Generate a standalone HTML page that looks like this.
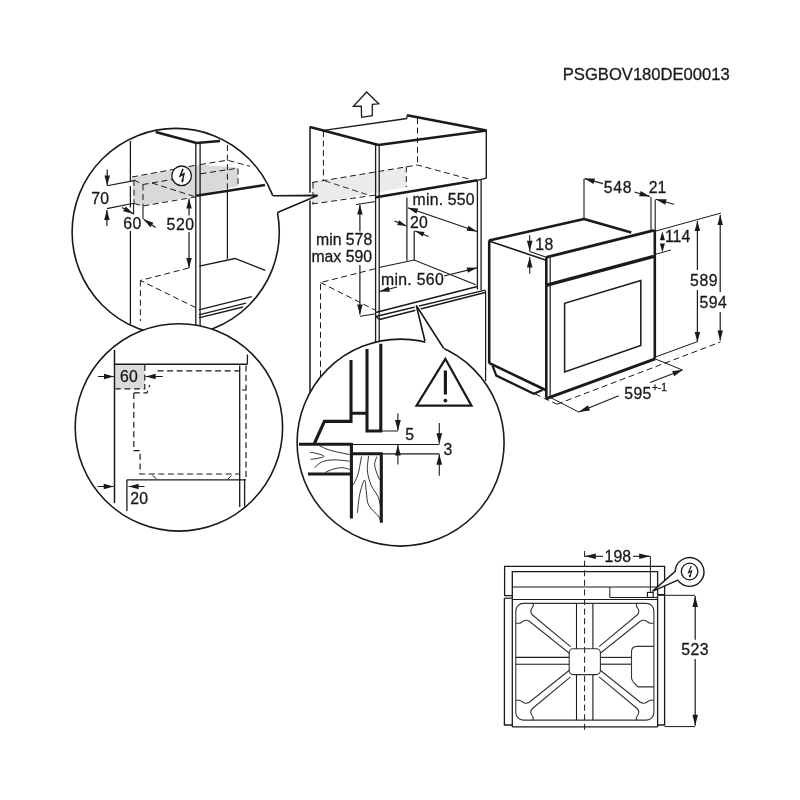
<!DOCTYPE html>
<html><head><meta charset="utf-8"><style>
html,body{margin:0;padding:0;background:#fff;width:800px;height:800px;overflow:hidden}
svg{display:block}
text{will-change:transform}
text{font-family:"Liberation Sans",sans-serif;fill:#1a1a1a;stroke:#1a1a1a;stroke-width:0.3px}
</style></head><body>
<svg width="800" height="800" viewBox="0 0 800 800">
<rect width="800" height="800" fill="#fff"/>
<polygon points="366.65,92 378.75,103.84 372.3,104.4 372.3,115.65 361.6,117.3 361.3,106.1 353.4,106.4" fill="none" stroke="#1a1a1a" stroke-width="1.3" stroke-linejoin="miter"/>
<polygon points="312,182.5 406.3,166.5 406.3,187 380,192 312,204" fill="#ebebeb" stroke="none"/>
<line x1="310" y1="126.6" x2="310" y2="192.7" stroke="#1a1a1a" stroke-width="1.5"/>
<line x1="310" y1="200.6" x2="310" y2="400" stroke="#1a1a1a" stroke-width="1.5"/>
<line x1="313" y1="182.5" x2="313" y2="204" stroke="#1a1a1a" stroke-width="1.0" stroke-dasharray="6,3.6"/>
<line x1="310" y1="127" x2="378.5" y2="145" stroke="#1a1a1a" stroke-width="2.6"/>
<line x1="323.75" y1="130.4" x2="407" y2="118.5" stroke="#1a1a1a" stroke-width="1.3"/>
<line x1="407" y1="115.3" x2="407" y2="118.5" stroke="#1a1a1a" stroke-width="1.2"/>
<line x1="407" y1="115.2" x2="486.5" y2="130.5" stroke="#1a1a1a" stroke-width="2.6"/>
<line x1="378.4" y1="145" x2="486.5" y2="130.5" stroke="#1a1a1a" stroke-width="2.6"/>
<line x1="375.6" y1="143.5" x2="375.6" y2="400" stroke="#1a1a1a" stroke-width="1.3"/>
<line x1="379.2" y1="144.4" x2="379.2" y2="400" stroke="#1a1a1a" stroke-width="1.3"/>
<line x1="486.3" y1="130.5" x2="486.3" y2="178.2" stroke="#1a1a1a" stroke-width="1.4"/>
<line x1="486.3" y1="178.2" x2="477.4" y2="180.4" stroke="#1a1a1a" stroke-width="1.2"/>
<line x1="477.4" y1="180" x2="477.4" y2="289.5" stroke="#1a1a1a" stroke-width="1.3"/>
<line x1="481.1" y1="179.6" x2="481.1" y2="290" stroke="#1a1a1a" stroke-width="1.3"/>
<line x1="485.6" y1="290.5" x2="485.6" y2="381" stroke="#1a1a1a" stroke-width="1.2"/>
<line x1="323.4" y1="131" x2="323.4" y2="180" stroke="#1a1a1a" stroke-width="1.0" stroke-dasharray="6,3.6"/>
<line x1="417.5" y1="118" x2="417.5" y2="165" stroke="#1a1a1a" stroke-width="1.0" stroke-dasharray="6,3.6"/>
<polyline points="312,182.5 417.5,165 470,179.3" fill="none" stroke="#1a1a1a" stroke-width="1.0" stroke-linejoin="miter" stroke-dasharray="6,3.6"/>
<line x1="406.3" y1="166.5" x2="406.3" y2="187" stroke="#1a1a1a" stroke-width="1.0" stroke-dasharray="6,3.6"/>
<polyline points="312,204 376,195" fill="none" stroke="#1a1a1a" stroke-width="1.0" stroke-linejoin="miter" stroke-dasharray="6,3.6"/>
<line x1="356" y1="204.5" x2="376" y2="201.5" stroke="#1a1a1a" stroke-width="1.0"/>
<line x1="324.75" y1="180.75" x2="368.25" y2="195" stroke="#1a1a1a" stroke-width="0.9" stroke-dasharray="6,3.6"/>
<line x1="376" y1="197.2" x2="477.4" y2="180.2" stroke="#1a1a1a" stroke-width="2.6"/>
<line x1="406.9" y1="197.5" x2="406.9" y2="260.8" stroke="#1a1a1a" stroke-width="1.2"/>
<polyline points="379,267.5 414.2,260 475.8,284.8" fill="none" stroke="#1a1a1a" stroke-width="1.2" stroke-linejoin="miter"/>
<line x1="375.6" y1="312.6" x2="477.3" y2="286.6" stroke="#1a1a1a" stroke-width="1.5"/>
<line x1="375.75" y1="316.5" x2="485" y2="290.1" stroke="#1a1a1a" stroke-width="1.3"/>
<line x1="379.5" y1="319.5" x2="485" y2="292.6" stroke="#1a1a1a" stroke-width="1.5"/>
<line x1="375.75" y1="316.5" x2="379.5" y2="319.5" stroke="#1a1a1a" stroke-width="1.2"/>
<polyline points="375,268.8 320.5,282.5 320.5,380" fill="none" stroke="#1a1a1a" stroke-width="1.0" stroke-linejoin="miter" stroke-dasharray="6,3.6"/>
<polyline points="320.5,282.5 375,310" fill="none" stroke="#1a1a1a" stroke-width="1.0" stroke-linejoin="miter" stroke-dasharray="6,3.6"/>
<line x1="360" y1="316.3" x2="375.5" y2="313.8" stroke="#1a1a1a" stroke-width="1.0"/>
<line x1="359.9" y1="231.5" x2="359.9" y2="204.5" stroke="#1a1a1a" stroke-width="1.2"/>
<polygon points="359.90,204.50 362.65,214.50 357.15,214.50" fill="#1a1a1a"/>
<line x1="359.9" y1="265" x2="359.9" y2="314.5" stroke="#1a1a1a" stroke-width="1.2"/>
<polygon points="359.90,314.50 357.15,304.50 362.65,304.50" fill="#1a1a1a"/>
<text x="372.2" y="245.4" font-size="15.8" text-anchor="end" letter-spacing="0">min 578</text>
<text x="372.0" y="261.8" font-size="15.8" text-anchor="end" letter-spacing="0">max 590</text>
<text x="412.6" y="204.6" font-size="15.8" text-anchor="start" letter-spacing="0.2">min. 550</text>
<line x1="407.8" y1="207.8" x2="477" y2="231.5" stroke="#1a1a1a" stroke-width="1.2"/>
<polygon points="407.80,207.80 418.15,208.44 416.37,213.64" fill="#1a1a1a"/>
<polygon points="477.00,231.50 466.65,230.86 468.43,225.66" fill="#1a1a1a"/>
<text x="410" y="227.5" font-size="15.8" text-anchor="start" letter-spacing="0.3">20</text>
<line x1="394.5" y1="221" x2="406.5" y2="226" stroke="#1a1a1a" stroke-width="1.2"/>
<polygon points="406.50,226.00 397.22,224.98 399.07,220.34" fill="#1a1a1a"/>
<line x1="414.2" y1="230.8" x2="414.2" y2="260" stroke="#1a1a1a" stroke-width="1.2"/>
<line x1="428.5" y1="236.5" x2="415.2" y2="231" stroke="#1a1a1a" stroke-width="1.2"/>
<polygon points="415.20,231.00 424.49,231.95 422.67,236.60" fill="#1a1a1a"/>
<text x="381" y="285.1" font-size="15.8" text-anchor="start" letter-spacing="0.3">min. 560</text>
<line x1="444" y1="276" x2="477" y2="267.8" stroke="#1a1a1a" stroke-width="1.2"/>
<polygon points="477.00,267.80 467.95,272.86 466.63,267.52" fill="#1a1a1a"/>
<line x1="397" y1="287" x2="379.5" y2="291.5" stroke="#1a1a1a" stroke-width="1.2"/>
<polygon points="379.50,291.50 388.58,286.48 389.87,291.83" fill="#1a1a1a"/>
<polygon points="268,190 317.7,195.4 277.5,212.4 270,205" fill="#fff" stroke="none"/>
<circle cx="175.7" cy="232" r="103.6" fill="#fff" stroke="#1a1a1a" stroke-width="1.6"/>
<clipPath id="c1"><circle cx="175.7" cy="232" r="102.8"/></clipPath><g clip-path="url(#c1)">
<polygon points="132,177.2 200,164.8 238,167.5 238,186 200,194.6 143,206 134,203.5" fill="#d9d9d9" stroke="none"/>
<line x1="130.4" y1="141" x2="130.4" y2="181" stroke="#1a1a1a" stroke-width="1.3"/>
<line x1="130.4" y1="186" x2="130.4" y2="207.5" stroke="#1a1a1a" stroke-width="1.3"/>
<line x1="130.4" y1="231" x2="130.4" y2="330" stroke="#1a1a1a" stroke-width="1.3"/>
<polyline points="155.6,131.9 196.5,143 220,141" fill="none" stroke="#1a1a1a" stroke-width="2.6" stroke-linejoin="miter"/>
<line x1="195.8" y1="143" x2="195.8" y2="340" stroke="#1a1a1a" stroke-width="1.3"/>
<line x1="200.1" y1="143" x2="200.1" y2="340" stroke="#1a1a1a" stroke-width="1.3"/>
<line x1="227.4" y1="145" x2="227.4" y2="190" stroke="#1a1a1a" stroke-width="1.0" stroke-dasharray="6,3.6"/>
<line x1="227.4" y1="190" x2="227.4" y2="259" stroke="#1a1a1a" stroke-width="1.2"/>
<polyline points="132,177 196,165.2" fill="none" stroke="#1a1a1a" stroke-width="1.0" stroke-linejoin="miter" stroke-dasharray="6,3.6"/>
<polyline points="200,164.6 227.4,160.2 250,166.3" fill="none" stroke="#1a1a1a" stroke-width="1.0" stroke-linejoin="miter" stroke-dasharray="6,3.6"/>
<polyline points="134,180 143,184.5 175,179" fill="none" stroke="#1a1a1a" stroke-width="1.0" stroke-linejoin="miter" stroke-dasharray="6,3.6"/>
<line x1="200.5" y1="173.8" x2="238" y2="168.2" stroke="#1a1a1a" stroke-width="1.0" stroke-dasharray="6,3.6"/>
<line x1="134" y1="180" x2="134" y2="203.5" stroke="#1a1a1a" stroke-width="1.0" stroke-dasharray="6,3.6"/>
<line x1="143" y1="184.5" x2="143" y2="206" stroke="#1a1a1a" stroke-width="1.0" stroke-dasharray="6,3.6"/>
<line x1="143" y1="206" x2="143" y2="219" stroke="#1a1a1a" stroke-width="1.1"/>
<line x1="152" y1="183" x2="196" y2="197" stroke="#1a1a1a" stroke-width="1.0" stroke-dasharray="6,3.6"/>
<polyline points="134,203.5 143,206 196,196.8" fill="none" stroke="#1a1a1a" stroke-width="1.0" stroke-linejoin="miter" stroke-dasharray="6,3.6"/>
<line x1="238" y1="168.5" x2="238" y2="186" stroke="#1a1a1a" stroke-width="1.0" stroke-dasharray="6,3.6"/>
<line x1="196.3" y1="195.8" x2="265" y2="185" stroke="#1a1a1a" stroke-width="2.6"/>
<line x1="107.2" y1="169.4" x2="107.2" y2="185.6" stroke="#1a1a1a" stroke-width="1.2"/>
<polygon points="107.20,185.60 104.45,175.60 109.95,175.60" fill="#1a1a1a"/>
<line x1="107.2" y1="185.8" x2="134" y2="180.6" stroke="#1a1a1a" stroke-width="1.1"/>
<line x1="106.9" y1="208.6" x2="133.7" y2="203.2" stroke="#1a1a1a" stroke-width="1.1"/>
<line x1="106.9" y1="226" x2="106.9" y2="210" stroke="#1a1a1a" stroke-width="1.2"/>
<polygon points="106.90,210.00 109.65,220.00 104.15,220.00" fill="#1a1a1a"/>
<text x="91.2" y="203.8" font-size="15.8" text-anchor="start" letter-spacing="0.3">70</text>
<line x1="133.6" y1="203.2" x2="133.6" y2="214.4" stroke="#1a1a1a" stroke-width="1.1"/>
<line x1="121.9" y1="207.5" x2="133.2" y2="213.8" stroke="#1a1a1a" stroke-width="1.2"/>
<polygon points="133.20,213.80 123.13,211.33 125.80,206.53" fill="#1a1a1a"/>
<line x1="155.6" y1="227.5" x2="143.6" y2="219.3" stroke="#1a1a1a" stroke-width="1.2"/>
<polygon points="143.60,219.30 153.41,222.67 150.30,227.21" fill="#1a1a1a"/>
<text x="123.3" y="229.2" font-size="15.8" text-anchor="start" letter-spacing="0.3">60</text>
<line x1="189" y1="215.5" x2="189" y2="198.6" stroke="#1a1a1a" stroke-width="1.2"/>
<polygon points="189.00,198.60 191.75,208.60 186.25,208.60" fill="#1a1a1a"/>
<line x1="189" y1="232" x2="189" y2="268" stroke="#1a1a1a" stroke-width="1.2"/>
<polygon points="189.00,268.00 186.25,258.00 191.75,258.00" fill="#1a1a1a"/>
<text x="166.6" y="229.9" font-size="15.8" text-anchor="start" letter-spacing="0.5">520</text>
<circle cx="181.6" cy="175.8" r="9.8" fill="#fff" stroke="#1a1a1a" stroke-width="1.3"/>
<polyline points="183.0,168.9 180.2,176.0 183.9,173.8 182.2,182.2" fill="none" stroke="#1a1a1a" stroke-width="1.5" stroke-linejoin="miter"/>
<polygon points="182.10,182.70 181.40,179.32 183.96,179.79" fill="#1a1a1a"/>
<polyline points="199.4,266.2 235,258.5 265.3,270.4" fill="none" stroke="#1a1a1a" stroke-width="1.3" stroke-linejoin="miter"/>
<polyline points="188.7,268 140.4,280.5 195.5,307.5" fill="none" stroke="#1a1a1a" stroke-width="1.0" stroke-linejoin="miter" stroke-dasharray="6,3.6"/>
<line x1="140.4" y1="280.5" x2="140.4" y2="321" stroke="#1a1a1a" stroke-width="1.0" stroke-dasharray="6,3.6"/>
<line x1="198.9" y1="309.8" x2="251.8" y2="296.7" stroke="#1a1a1a" stroke-width="1.3"/>
<line x1="198.9" y1="314.8" x2="246" y2="303.2" stroke="#1a1a1a" stroke-width="1.3"/>
<line x1="198.9" y1="317.8" x2="243" y2="307" stroke="#1a1a1a" stroke-width="1.3"/>
</g>
<polygon points="317.7,195.4 268.7,195.85 273.7,214.0" fill="#fff" stroke="none"/>
<polyline points="272.7,195.8 317.7,195.4 277.5,212.4" fill="none" stroke="#1a1a1a" stroke-width="1.6" stroke-linejoin="miter"/>
<circle cx="178.9" cy="427.4" r="103.7" fill="#fff" stroke="#1a1a1a" stroke-width="1.6"/>
<clipPath id="c2"><circle cx="178.9" cy="427.4" r="102.9"/></clipPath><g clip-path="url(#c2)">
<polygon points="115.4,364.8 144.8,364.8 144.8,388.8 115.4,388.8" fill="#dadada" stroke="none"/>
<line x1="114.5" y1="350" x2="114.5" y2="503" stroke="#1a1a1a" stroke-width="1.5"/>
<line x1="113.8" y1="364.2" x2="247.4" y2="364.2" stroke="#1a1a1a" stroke-width="1.4"/>
<line x1="247.4" y1="354.4" x2="247.4" y2="364.2" stroke="#1a1a1a" stroke-width="1.3"/>
<line x1="239.7" y1="365.4" x2="239.7" y2="507" stroke="#1a1a1a" stroke-width="1.3"/>
<line x1="244.6" y1="479" x2="244.6" y2="507" stroke="#1a1a1a" stroke-width="1.3"/>
<line x1="246" y1="365.5" x2="246" y2="477" stroke="#1a1a1a" stroke-width="1.2" stroke-dasharray="6,3.6"/>
<line x1="241.9" y1="390" x2="246" y2="390" stroke="#1a1a1a" stroke-width="1.0"/>
<polyline points="144.8,364.8 144.8,388.8 115.4,388.8" fill="none" stroke="#1a1a1a" stroke-width="1.2" stroke-linejoin="miter" stroke-dasharray="6,3.6"/>
<line x1="157.5" y1="370.9" x2="239.7" y2="370.9" stroke="#1a1a1a" stroke-width="1.2" stroke-dasharray="6,3.6"/>
<polyline points="133.8,392.9 147,392.9 149.8,385" fill="none" stroke="#1a1a1a" stroke-width="1.2" stroke-linejoin="miter" stroke-dasharray="6,3.6"/>
<polyline points="133.8,392.9 133.8,450.6 140.1,450.6 140.1,474 239,474" fill="none" stroke="#1a1a1a" stroke-width="1.2" stroke-linejoin="miter" stroke-dasharray="6,3.6"/>
<line x1="152.5" y1="475.4" x2="156.6" y2="479" stroke="#1a1a1a" stroke-width="1.0"/>
<line x1="228" y1="479" x2="231.5" y2="475.4" stroke="#1a1a1a" stroke-width="1.0"/>
<line x1="126.9" y1="479.8" x2="246" y2="479.8" stroke="#1a1a1a" stroke-width="1.3"/>
<line x1="126.9" y1="479.8" x2="126.9" y2="511" stroke="#1a1a1a" stroke-width="1.3"/>
<line x1="98" y1="376.5" x2="114" y2="376.5" stroke="#1a1a1a" stroke-width="1.2"/>
<polygon points="114.00,376.50 104.00,379.25 104.00,373.75" fill="#1a1a1a"/>
<line x1="162.8" y1="376.5" x2="145.6" y2="376.5" stroke="#1a1a1a" stroke-width="1.2"/>
<polygon points="145.60,376.50 155.60,373.75 155.60,379.25" fill="#1a1a1a"/>
<text x="129.0" y="382.0" font-size="15.8" text-anchor="middle" letter-spacing="0.3">60</text>
<line x1="97.5" y1="486.5" x2="113.7" y2="486.5" stroke="#1a1a1a" stroke-width="1.2"/>
<polygon points="113.70,486.50 103.70,489.25 103.70,483.75" fill="#1a1a1a"/>
<line x1="144.5" y1="486.5" x2="128.6" y2="486.5" stroke="#1a1a1a" stroke-width="1.2"/>
<polygon points="128.60,486.50 138.60,483.75 138.60,489.25" fill="#1a1a1a"/>
<text x="130.2" y="504" font-size="15.8" text-anchor="start" letter-spacing="0.3">20</text>
</g>
<polygon points="416.3,305.5 425,341.3 443.6,348.2" fill="#fff" stroke="none"/>
<circle cx="400.6" cy="442.6" r="103.5" fill="#fff" stroke="#1a1a1a" stroke-width="1.6"/>
<clipPath id="c3"><circle cx="400.6" cy="442.6" r="102.7"/></clipPath><g clip-path="url(#c3)">
</g>
<polygon points="416.3,305.5 425.9,345.2 445.6,351.6" fill="#fff" stroke="none"/>
<polyline points="418.5,315.5 416.3,305.5 422,314.8" fill="none" stroke="#fff" stroke-width="4" stroke-linejoin="miter"/>
<polyline points="425,341.3 416.3,305.5 443.6,348.2" fill="none" stroke="#1a1a1a" stroke-width="1.6" stroke-linejoin="miter"/>
<g clip-path="url(#c3)">
<polygon points="445.4,358.9 416.5,405.6 471.5,405.6" fill="none" stroke="#1a1a1a" stroke-width="2.2" stroke-linejoin="miter"/>
<line x1="445.4" y1="370.5" x2="445.4" y2="394.5" stroke="#1a1a1a" stroke-width="3.2"/>
<circle cx="445.4" cy="400.6" r="1.9" fill="#1a1a1a" stroke="#1a1a1a" stroke-width="0"/>
<polyline points="351,360 351,421.4 324.4,421.4 314.4,443.5" fill="none" stroke="#1a1a1a" stroke-width="3.1" stroke-linejoin="miter"/>
<polyline points="351,413.2 367,413.2" fill="none" stroke="#1a1a1a" stroke-width="3.1" stroke-linejoin="miter"/>
<polyline points="367,349 367,431 380.8,431 380.8,343.7" fill="none" stroke="#1a1a1a" stroke-width="3.1" stroke-linejoin="miter"/>
<polyline points="299,444.2 351.4,444.2 351.4,518.5" fill="none" stroke="#1a1a1a" stroke-width="3.1" stroke-linejoin="miter"/>
<line x1="308" y1="474" x2="351" y2="474" stroke="#1a1a1a" stroke-width="3.1"/>
<polyline points="351.4,453.8 381.3,453.8 381.3,522.8" fill="none" stroke="#1a1a1a" stroke-width="3.1" stroke-linejoin="miter"/>
<line x1="352" y1="444.5" x2="439.3" y2="444.5" stroke="#1a1a1a" stroke-width="1.0"/>
<line x1="382" y1="453.9" x2="439.3" y2="453.9" stroke="#1a1a1a" stroke-width="1.4"/>
<line x1="380.8" y1="431" x2="397.9" y2="431" stroke="#1a1a1a" stroke-width="1.0"/>
<line x1="397.9" y1="413.5" x2="397.9" y2="430.6" stroke="#1a1a1a" stroke-width="1.1"/>
<polygon points="397.90,430.60 395.00,420.10 400.80,420.10" fill="#1a1a1a"/>
<line x1="397.9" y1="464.5" x2="397.9" y2="444.9" stroke="#1a1a1a" stroke-width="1.1"/>
<polygon points="397.90,444.90 400.80,455.40 395.00,455.40" fill="#1a1a1a"/>
<text x="405.3" y="439.6" font-size="15.8" text-anchor="start" letter-spacing="0.3">5</text>
<line x1="439.3" y1="423" x2="439.3" y2="443.8" stroke="#1a1a1a" stroke-width="1.1"/>
<polygon points="439.30,443.80 436.40,433.30 442.20,433.30" fill="#1a1a1a"/>
<line x1="439.3" y1="475.7" x2="439.3" y2="454.2" stroke="#1a1a1a" stroke-width="1.1"/>
<polygon points="439.30,454.20 442.20,464.70 436.40,464.70" fill="#1a1a1a"/>
<text x="443.6" y="455" font-size="15.8" text-anchor="start" letter-spacing="0.3">3</text>
<path d="M319.3,445.7 C321.18,446.48 325.55,448.92 330.6,450.4 C335.65,451.88 346.43,453.90 349.6,454.6" fill="none" stroke="#1a1a1a" stroke-width="0.9"/>
<path d="M309.8,452.2 C311.17,452.47 315.62,453.10 318,453.8 C320.38,454.50 324.27,455.62 324.1,456.4 C323.93,457.18 319.28,458.02 317,458.5 C314.72,458.98 311.50,459.17 310.4,459.3" fill="none" stroke="#1a1a1a" stroke-width="0.9"/>
<path d="M314.6,467.7 C315.88,466.70 319.03,463.00 322.3,461.7 C325.57,460.40 329.65,460.00 334.2,459.9 C338.75,459.80 347.03,460.90 349.6,461.1" fill="none" stroke="#1a1a1a" stroke-width="0.9"/>
<path d="M325.3,472.4 C326.78,471.80 331.33,469.58 334.2,468.8 C337.07,468.02 339.93,467.60 342.5,467.7 C345.07,467.80 348.42,469.12 349.6,469.4" fill="none" stroke="#1a1a1a" stroke-width="0.9"/>
<path d="M361.5,456.4 C360.92,459.37 359.38,469.45 358,474.2 C356.62,478.95 354.00,483.12 353.2,484.9" fill="none" stroke="#1a1a1a" stroke-width="0.9"/>
<path d="M368.6,455.8 C368.40,458.27 367.00,465.75 367.4,470.6 C367.80,475.45 369.22,480.53 371,484.9 C372.78,489.27 376.52,493.23 378.1,496.8 C379.68,500.37 380.10,504.72 380.5,506.3" fill="none" stroke="#1a1a1a" stroke-width="0.9"/>
<path d="M377,456.4 C376.60,457.78 374.42,461.33 374.6,464.7 C374.78,468.07 377.20,474.05 378.1,476.6 C379.00,479.15 379.68,479.43 380,480" fill="none" stroke="#1a1a1a" stroke-width="0.9"/>
<path d="M357.4,512.8 C357.78,509.73 358.52,499.85 359.7,494.4 C360.88,488.95 363.40,480.50 364.5,480.1 C365.60,479.70 365.62,487.83 366.3,492 C366.98,496.17 366.63,501.13 368.6,505.1 C370.57,509.07 376.12,513.23 378.1,515.8 C380.08,518.37 380.10,519.72 380.5,520.5" fill="none" stroke="#1a1a1a" stroke-width="0.9"/>
</g>
<line x1="489.2" y1="240.4" x2="489.2" y2="363.5" stroke="#1a1a1a" stroke-width="2.6"/>
<line x1="489" y1="240.4" x2="584" y2="219" stroke="#1a1a1a" stroke-width="2.6"/>
<line x1="584" y1="219" x2="631.3" y2="232.5" stroke="#1a1a1a" stroke-width="2.6"/>
<line x1="489" y1="241" x2="545.4" y2="260" stroke="#1a1a1a" stroke-width="1.6"/>
<line x1="546" y1="257.3" x2="653.8" y2="230.3" stroke="#1a1a1a" stroke-width="2.8"/>
<line x1="654.8" y1="229.8" x2="654.8" y2="358.5" stroke="#1a1a1a" stroke-width="2.6"/>
<line x1="546.3" y1="257.3" x2="546.3" y2="397" stroke="#1a1a1a" stroke-width="2.6"/>
<line x1="550.2" y1="258" x2="550.2" y2="397" stroke="#1a1a1a" stroke-width="1.2"/>
<line x1="546" y1="285.3" x2="653.8" y2="256.4" stroke="#1a1a1a" stroke-width="3.3"/>
<polygon points="564.6,372 564.6,303.4 640.8,280.6 640.8,345.4 564.6,372" fill="none" stroke="#1a1a1a" stroke-width="1.5" stroke-linejoin="miter"/>
<line x1="489.4" y1="363.2" x2="545.5" y2="390" stroke="#1a1a1a" stroke-width="2.6"/>
<polyline points="492.5,365.6 496.3,375.6 533.8,393.8 542.5,390" fill="none" stroke="#1a1a1a" stroke-width="2.2" stroke-linejoin="miter"/>
<line x1="545.5" y1="398.9" x2="655.2" y2="358.8" stroke="#1a1a1a" stroke-width="3.0"/>
<line x1="529.7" y1="235.3" x2="529.7" y2="251.2" stroke="#1a1a1a" stroke-width="1.1"/>
<polygon points="529.70,251.20 526.90,240.70 532.50,240.70" fill="#1a1a1a"/>
<line x1="529.7" y1="273.8" x2="529.7" y2="256.9" stroke="#1a1a1a" stroke-width="1.1"/>
<polygon points="529.70,256.90 532.50,267.40 526.90,267.40" fill="#1a1a1a"/>
<line x1="529.7" y1="251.4" x2="545.6" y2="256.9" stroke="#1a1a1a" stroke-width="1.1"/>
<text x="535.3" y="249.8" font-size="15.8" text-anchor="start" letter-spacing="0.3">18</text>
<line x1="584" y1="178.8" x2="584" y2="219" stroke="#1a1a1a" stroke-width="1.1"/>
<line x1="651" y1="197" x2="651" y2="229.8" stroke="#1a1a1a" stroke-width="1.1"/>
<line x1="655.2" y1="199.5" x2="655.2" y2="230" stroke="#1a1a1a" stroke-width="1.1"/>
<line x1="603" y1="183.6" x2="584.6" y2="178.6" stroke="#1a1a1a" stroke-width="1.1"/>
<polygon points="584.60,178.60 594.97,178.59 593.52,183.90" fill="#1a1a1a"/>
<line x1="634.5" y1="192" x2="650" y2="196.5" stroke="#1a1a1a" stroke-width="1.1"/>
<polygon points="650.00,196.50 639.15,196.20 640.69,190.92" fill="#1a1a1a"/>
<text x="603.8" y="192.7" font-size="15.8" text-anchor="start" letter-spacing="0.7">548</text>
<text x="648.8" y="192.7" font-size="15.8" text-anchor="start" letter-spacing="0">21</text>
<line x1="674" y1="204.2" x2="655.8" y2="199.2" stroke="#1a1a1a" stroke-width="1.1"/>
<polygon points="655.80,199.20 666.65,199.33 665.20,204.63" fill="#1a1a1a"/>
<line x1="656" y1="231" x2="721" y2="213" stroke="#1a1a1a" stroke-width="1.0"/>
<line x1="656" y1="254.2" x2="671" y2="250" stroke="#1a1a1a" stroke-width="1.0"/>
<polygon points="662.40,231.30 664.90,240.30 659.90,240.30" fill="#1a1a1a"/>
<polygon points="662.40,252.50 659.90,243.50 664.90,243.50" fill="#1a1a1a"/>
<text x="665" y="242.3" font-size="15.8" text-anchor="start" letter-spacing="0">114</text>
<line x1="697.4" y1="270" x2="697.4" y2="221" stroke="#1a1a1a" stroke-width="1.2"/>
<polygon points="697.40,221.00 700.15,231.00 694.65,231.00" fill="#1a1a1a"/>
<line x1="697.4" y1="290" x2="697.4" y2="342" stroke="#1a1a1a" stroke-width="1.2"/>
<polygon points="697.40,342.00 694.65,332.00 700.15,332.00" fill="#1a1a1a"/>
<text x="689.9" y="285.9" font-size="15.8" text-anchor="start" letter-spacing="0.7">589</text>
<line x1="720.2" y1="292" x2="720.2" y2="215" stroke="#1a1a1a" stroke-width="1.2"/>
<polygon points="720.20,215.00 722.95,225.00 717.45,225.00" fill="#1a1a1a"/>
<line x1="720.2" y1="312" x2="720.2" y2="340.5" stroke="#1a1a1a" stroke-width="1.2"/>
<polygon points="720.20,340.50 717.45,330.50 722.95,330.50" fill="#1a1a1a"/>
<text x="699.4" y="308.3" font-size="15.8" text-anchor="start" letter-spacing="0.5">594</text>
<line x1="656" y1="356.8" x2="697.7" y2="341.5" stroke="#1a1a1a" stroke-width="1.0"/>
<line x1="556.9" y1="404.2" x2="720.5" y2="342" stroke="#1a1a1a" stroke-width="1.0" stroke-dasharray="6,3.6"/>
<line x1="535" y1="393.8" x2="556.9" y2="404.2" stroke="#1a1a1a" stroke-width="1.0" stroke-dasharray="6,3.6"/>
<line x1="655" y1="358.8" x2="682.5" y2="370" stroke="#1a1a1a" stroke-width="1.0"/>
<line x1="550.1" y1="397.4" x2="578.8" y2="412" stroke="#1a1a1a" stroke-width="1.0"/>
<line x1="650" y1="382.5" x2="682.5" y2="370" stroke="#1a1a1a" stroke-width="1.1"/>
<polygon points="682.50,370.00 674.16,376.17 672.18,371.04" fill="#1a1a1a"/>
<line x1="618.7" y1="395.8" x2="578.8" y2="412" stroke="#1a1a1a" stroke-width="1.1"/>
<polygon points="578.80,412.00 587.94,405.29 590.02,410.38" fill="#1a1a1a"/>
<text x="624.3" y="399.4" font-size="15.8" text-anchor="start" letter-spacing="0.3">595</text>
<text x="652" y="391" font-size="10.2" text-anchor="start" letter-spacing="0">+-1</text>
<polyline points="512,595.6 504.6,595.6 504.6,566.4 664.6,566.4 664.6,594.6" fill="none" stroke="#1a1a1a" stroke-width="1.3" stroke-linejoin="miter"/>
<polyline points="512.3,599.6 512.3,571.7 657.6,571.7 657.6,594.6" fill="none" stroke="#1a1a1a" stroke-width="1.3" stroke-linejoin="miter"/>
<line x1="512.3" y1="587" x2="657.6" y2="587" stroke="#1a1a1a" stroke-width="1.1"/>
<polyline points="609.8,587 609.8,597.5 657,597.5" fill="none" stroke="#1a1a1a" stroke-width="1.0" stroke-linejoin="miter"/>
<line x1="504.4" y1="598.2" x2="512.3" y2="598.2" stroke="#1a1a1a" stroke-width="1.2"/>
<line x1="512" y1="599.5" x2="657.6" y2="599.5" stroke="#1a1a1a" stroke-width="1.1"/>
<polyline points="504.4,598.2 504.4,725 512.3,725" fill="none" stroke="#1a1a1a" stroke-width="1.3" stroke-linejoin="miter"/>
<line x1="512.3" y1="599.6" x2="512.3" y2="727" stroke="#1a1a1a" stroke-width="1.3"/>
<line x1="512.3" y1="726.8" x2="657.6" y2="726.8" stroke="#1a1a1a" stroke-width="1.3"/>
<line x1="657.6" y1="596" x2="657.6" y2="727" stroke="#1a1a1a" stroke-width="1.3"/>
<polyline points="657,594.6 664.6,594.6 664.6,725 657.6,725" fill="none" stroke="#1a1a1a" stroke-width="1.3" stroke-linejoin="miter"/>
<rect x="647.4" y="592.4" width="5.8" height="5.0" fill="#fff" stroke="#1a1a1a" stroke-width="1.1"/>
<line x1="584.6" y1="551" x2="584.6" y2="731" stroke="#1a1a1a" stroke-width="1.0" stroke-dasharray="6,3.6"/>
<line x1="650.4" y1="556.3" x2="650.4" y2="592.3" stroke="#1a1a1a" stroke-width="1.0"/>
<line x1="603" y1="556.3" x2="584.8" y2="556.3" stroke="#1a1a1a" stroke-width="1.1"/>
<polygon points="584.80,556.30 595.80,553.55 595.80,559.05" fill="#1a1a1a"/>
<line x1="633" y1="556.3" x2="650.2" y2="556.3" stroke="#1a1a1a" stroke-width="1.1"/>
<polygon points="650.20,556.30 639.20,559.05 639.20,553.55" fill="#1a1a1a"/>
<text x="604.6" y="562" font-size="15.8" text-anchor="start" letter-spacing="0">198</text>
<line x1="657.6" y1="595.3" x2="695" y2="595.3" stroke="#1a1a1a" stroke-width="1.0"/>
<line x1="664.6" y1="726.6" x2="695" y2="726.6" stroke="#1a1a1a" stroke-width="1.0"/>
<line x1="695.2" y1="639.8" x2="695.2" y2="596" stroke="#1a1a1a" stroke-width="1.2"/>
<polygon points="695.20,596.00 697.95,607.00 692.45,607.00" fill="#1a1a1a"/>
<line x1="695.2" y1="659" x2="695.2" y2="725.8" stroke="#1a1a1a" stroke-width="1.2"/>
<polygon points="695.20,725.80 692.45,714.80 697.95,714.80" fill="#1a1a1a"/>
<text x="681.3" y="655" font-size="15.8" text-anchor="start" letter-spacing="0.45">523</text>
<path d="M652.4,591.4 L675.2,571.4 A14.4,14.4 0 1 1 677.8,580.2 Z" fill="#fff" stroke="#1a1a1a" stroke-width="1.4" stroke-linejoin="miter"/>
<circle cx="689.6" cy="571.5" r="8.3" fill="#fff" stroke="#1a1a1a" stroke-width="1.3"/>
<polyline points="691.2,566.0 688.6,572.6 691.6,571.0 689.8,577.0" fill="none" stroke="#1a1a1a" stroke-width="1.2" stroke-linejoin="miter"/>
<polygon points="689.50,577.80 688.83,575.08 690.91,575.37" fill="#1a1a1a"/>
<rect x="515.8" y="603.4" width="138.1" height="116.7" rx="7.5" ry="7.5" fill="none" stroke="#333" stroke-width="1.1"/>
<rect x="569.2" y="648.8" width="31.2" height="25.8" rx="4" ry="4" fill="none" stroke="#333" stroke-width="1.1"/>
<line x1="576.5" y1="603.4" x2="576.5" y2="648.8" stroke="#1a1a1a" stroke-width="1.1"/>
<line x1="576.5" y1="674.6" x2="576.5" y2="720.2" stroke="#1a1a1a" stroke-width="1.1"/>
<line x1="592.9" y1="603.4" x2="592.9" y2="648.8" stroke="#1a1a1a" stroke-width="1.1"/>
<line x1="592.9" y1="674.6" x2="592.9" y2="720.2" stroke="#1a1a1a" stroke-width="1.1"/>
<line x1="515.8" y1="657.4" x2="569.2" y2="657.4" stroke="#1a1a1a" stroke-width="1.1"/>
<line x1="600.4" y1="657.4" x2="631.5" y2="657.4" stroke="#1a1a1a" stroke-width="1.1"/>
<line x1="515.8" y1="664.2" x2="569.2" y2="664.2" stroke="#1a1a1a" stroke-width="1.1"/>
<line x1="600.4" y1="664.2" x2="631.5" y2="664.2" stroke="#1a1a1a" stroke-width="1.1"/>
<path d="M532.5,603.4 C534,605 533,607 531.7,608.5 C530.4,610.5 530.8,613.2 532.5,615 L570.5,646.6 M515.8,623.25 L519.5,623.25 C521.5,622.8 522.6,620.6 525.6,620.3 C527.2,620.2 528,620.4 529.3,621.2 L569.3,653.2" fill="none" stroke="#333" stroke-width="1.1"/>
<path d="M532.5,603.4 C534,605 533,607 531.7,608.5 C530.4,610.5 530.8,613.2 532.5,615 L570.5,646.6 M515.8,623.25 L519.5,623.25 C521.5,622.8 522.6,620.6 525.6,620.3 C527.2,620.2 528,620.4 529.3,621.2 L569.3,653.2" transform="matrix(-1,0,0,1,1169.6,0)" fill="none" stroke="#333" stroke-width="1.1"/>
<path d="M532.5,603.4 C534,605 533,607 531.7,608.5 C530.4,610.5 530.8,613.2 532.5,615 L570.5,646.6 M515.8,623.25 L519.5,623.25 C521.5,622.8 522.6,620.6 525.6,620.3 C527.2,620.2 528,620.4 529.3,621.2 L569.3,653.2" transform="matrix(1,0,0,-1,0,1323.5)" fill="none" stroke="#333" stroke-width="1.1"/>
<path d="M532.5,603.4 C534,605 533,607 531.7,608.5 C530.4,610.5 530.8,613.2 532.5,615 L570.5,646.6 M515.8,623.25 L519.5,623.25 C521.5,622.8 522.6,620.6 525.6,620.3 C527.2,620.2 528,620.4 529.3,621.2 L569.3,653.2" transform="matrix(-1,0,0,-1,1169.6,1323.5)" fill="none" stroke="#333" stroke-width="1.1"/>
<path d="M653.9,646.4 L637,646.4 Q631.5,646.4 631.5,652 L631.5,678 Q631.5,680 634,683 L638,686.9 L653.9,686.9" fill="none" stroke="#333" stroke-width="1.1"/>
<text x="562.8" y="80" font-size="16.6" text-anchor="start" letter-spacing="0">PSGBOV180DE00013</text>
</svg></body></html>
